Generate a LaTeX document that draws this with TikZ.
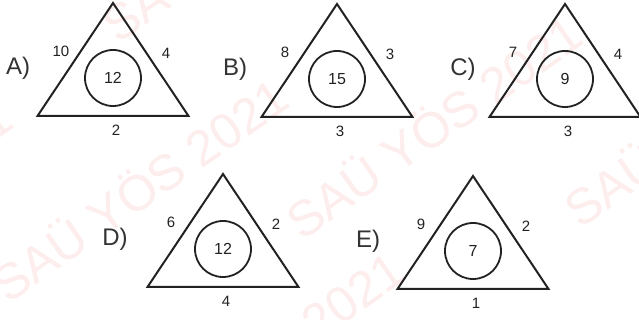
\documentclass[tikz,border=0pt]{standalone}
\usepackage{fontspec}
\setmainfont{Liberation Sans}
\usepackage{tikz}
\usetikzlibrary{calc}
\definecolor{inkdark}{HTML}{222222}
\definecolor{inkgrey}{HTML}{333333}
\definecolor{wmpink}{HTML}{FDEDED}
\tikzset{
  tri/.style    = {draw=inkdark, line width=2pt, line join=miter},
  ring/.style   = {circle, draw=inkdark, line width=1.8pt, minimum size=56pt,
                   inner sep=0pt, font=\fontsize{16}{18}\selectfont, text=inkdark},
  side/.style   = {font=\fontsize{15}{18}\selectfont, text=inkdark, inner sep=0pt},
  letter/.style = {font=\fontsize{24}{28}\selectfont, text=inkgrey, inner sep=0pt},
  wmark/.style  = {font=\fontsize{50}{60}\selectfont, text=wmpink, rotate=35,
                   anchor=base west, inner sep=0pt},
}

\begin{document}
\begin{tikzpicture}[x=1pt, y=1pt]
  \fill[white] (0,0) rectangle (639,320);
  \useasboundingbox (0,0) rectangle (639,320);

  % watermark
  \begin{scope}
    \clip (0,0) rectangle (639,320);
    \node[wmark] (wm1) at (8,15)      {SAÜ YÖS 2021};
    \node[wmark] (wm2) at (302,78)    {SAÜ YÖS 2021};
    \node[wmark] (wm3) at (118,275)   {SAÜ YÖS 2021};
    \node[wmark] (wm4) at (580,90)    {SAÜ YÖS 2021};
    \node[wmark] (wm5) at (124,-158)  {SAÜ YÖS 2021};
    \node[wmark] (wm6) at (-268,-6)   {SAÜ YÖS 2021};
  \end{scope}

  % triangles: option / apex x / apex y / left / right / bottom / centre / letter shift
  \foreach \lab/\ax/\ay/\l/\r/\b/\c/\dx in
      {A/113/3/10/4/2/12/95, B/337/4/8/3/3/15/102, C/565/4/7/4/3/9/102,
       D/223/174/6/2/4/12/108, E/473/176/9/2/1/7/105}{
    \coordinate (top\lab) at (\ax,320-\ay);
    \coordinate (bl\lab) at ($(top\lab)+(-75.5,-113)$);
    \coordinate (br\lab) at ($(top\lab)+(75.5,-113)$);
    \draw[tri] (top\lab) -- (bl\lab) -- (br\lab) -- cycle;
    \node[ring] (ring\lab) at ($(top\lab)+(0,-75)$) {\c};
    \node[side] (left\lab) at ($(top\lab)+(-52,-48)$) {\l};
    \node[side] (right\lab) at ($(top\lab)+(53,-50)$) {\r};
    \node[side] (bot\lab) at ($(top\lab)+(3,-127)$) {\b};
    \node[letter] (opt\lab) at ($(top\lab)+(-\dx,-65)$) {\lab)};
  }
\end{tikzpicture}
\end{document}
